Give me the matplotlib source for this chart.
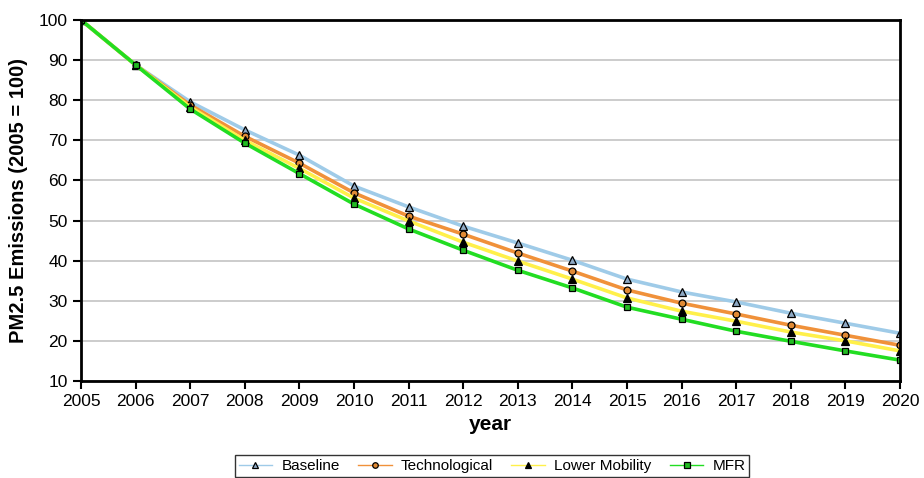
import matplotlib.pyplot as plt

plt.rcParams['font.family'] = ['Liberation Sans', 'DejaVu Sans']

years = list(range(2005, 2021))
baseline = [100, 88.8, 79.6, 72.6, 66.3, 58.6, 53.4, 48.6, 44.4, 40.1, 35.4, 32.2, 29.7, 26.9, 24.4, 21.9]
technological = [100, 88.8, 78.8, 71.0, 64.3, 56.9, 51.1, 46.6, 41.9, 37.4, 32.7, 29.4, 26.7, 23.9, 21.4, 18.9]
lower_mobility = [100, 88.8, 78.3, 70.0, 63.0, 55.6, 49.9, 44.6, 39.9, 35.4, 30.7, 27.4, 24.9, 22.2, 20.0, 17.5]
mfr = [100, 88.8, 77.8, 69.3, 61.7, 54.1, 47.9, 42.6, 37.6, 33.2, 28.4, 25.4, 22.4, 19.9, 17.5, 15.2]

fig = plt.figure(figsize=(9.24, 4.78), dpi=100)
ax = fig.add_axes([81 / 924, 1 - 381 / 478, (900 - 81) / 924, (381 - 20) / 478])

ax.plot(years, baseline, color='#9fcbe8', lw=2.6, marker='^', ms=5.5,
        mfc='#8ea9c4', mec='black', mew=0.9, label='Baseline')
ax.plot(years, technological, color='#f0913a', lw=2.6, marker='o', ms=5,
        mfc='#e08a35', mec='black', mew=0.9, label='Technological')
ax.plot(years, lower_mobility, color='#fff04a', lw=2.6, marker='^', ms=5.5,
        mfc='black', mec='black', mew=0.9, label='Lower Mobility')
ax.plot(years, mfr, color='#22dd22', lw=2.6, marker='s', ms=5,
        mfc='#22bb22', mec='black', mew=0.9, label='MFR')

ax.set_xlim(2005, 2020)
ax.set_ylim(10, 100)
ax.set_xticks(years)
ax.set_yticks(range(10, 101, 10))
ax.yaxis.grid(True, color='#c8c8c8', lw=1.3)
ax.set_axisbelow(True)
for s in ax.spines.values():
    s.set_linewidth(2)
ax.tick_params(axis='both', direction='out', length=6, width=1.5, labelsize=12.5)
ax.set_xlabel('year', fontsize=15, fontweight='bold', labelpad=4)
ax.set_ylabel('PM2.5 Emissions (2005 = 100)', fontsize=14.5, fontweight='bold', labelpad=8)

leg = fig.legend(loc='center', bbox_to_anchor=(492 / 924, 1 - 466 / 478), ncol=4,
                 fontsize=11, frameon=True, fancybox=False, edgecolor='black',
                 handlelength=2.2, columnspacing=1.2, borderpad=0.25, handletextpad=0.6)
leg.get_frame().set_linewidth(1)
for h in leg.get_lines():
    h.set_linewidth(1)
    h.set_markersize(4)

fig.savefig('out.png', dpi=100)
